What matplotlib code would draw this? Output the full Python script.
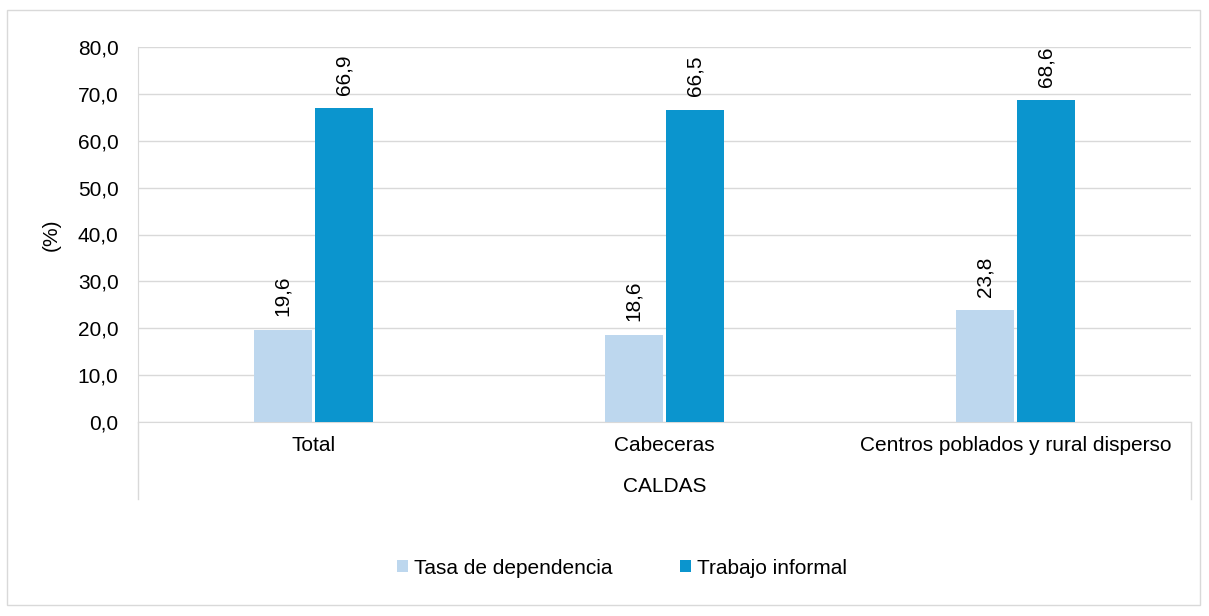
import matplotlib
matplotlib.use("Agg")
import matplotlib.pyplot as plt
from matplotlib.patches import Rectangle
from matplotlib.lines import Line2D
import numpy as np

categories = ["Total", "Cabeceras", "Centros poblados y rural disperso"]
series_names = ["Tasa de dependencia", "Trabajo informal"]
tasa = [19.6, 18.6, 23.8]
informal = [66.9, 66.5, 68.6]
colors = ["#BDD7EE", "#0B95CE"]
group_label = "CALDAS"

plt.rcParams['font.family'] = ['Liberation Sans', 'DejaVu Sans']
FS = 15

W, H = 1209, 616
fig = plt.figure(figsize=(W/100, H/100), dpi=100)
L, R, T, B = 138, 1191, 47, 422
ax = fig.add_axes([L/W, 1-B/H, (R-L)/W, (B-T)/H])

x = np.arange(len(categories))
bw = 0.165
gap = 0.005
b1 = ax.bar(x - bw/2 - gap, tasa, bw, color=colors[0], label=series_names[0], zorder=3)
b2 = ax.bar(x + bw/2 + gap, informal, bw, color=colors[1], label=series_names[1], zorder=3)

for bars, vals in [(b1, tasa), (b2, informal)]:
    for rect, v in zip(bars, vals):
        ax.annotate(f"{v:.1f}".replace(".", ","),
                    (rect.get_x() + rect.get_width()/2, rect.get_height()),
                    xytext=(0, 10), textcoords="offset points",
                    rotation=90, ha="center", va="bottom", fontsize=FS, color="#000000")

ax.set_xlim(-0.5, len(categories) - 0.5)
ax.set_ylim(0, 80)
ax.set_yticks(np.arange(0, 81, 10))
ax.set_yticklabels([f"{v:.1f}".replace(".", ",") for v in np.arange(0, 81, 10)], fontsize=FS)
ax.set_xticks(x)
ax.set_xticklabels(categories, fontsize=FS)
ax.tick_params(axis="y", length=0, pad=14)
ax.tick_params(axis="x", length=0, pad=10)
ax.grid(axis="y", color="#D9D9D9", linewidth=1, zorder=0)
for s in ["top", "right"]:
    ax.spines[s].set_visible(False)
ax.spines["left"].set_color("#D9D9D9")
ax.spines["bottom"].set_color("#D9D9D9")
ax.set_ylabel("(%)", fontsize=FS, labelpad=12)

# group separators and group label
ext = (499 - B) / (B - T) * 80
for xv in [-0.5, len(categories) - 0.5]:
    ax.add_line(Line2D([xv, xv], [0, -ext], color="#D9D9D9", linewidth=1, clip_on=False,
                       transform=ax.transData))
ax.text(0.5, -(487 - B) / (B - T), group_label, transform=ax.transAxes,
        ha="center", va="center", fontsize=FS)

leg = fig.legend(handles=[b1, b2], labels=series_names, loc="center",
                 bbox_to_anchor=(622/W, 1 - 568/H), ncol=2, frameon=False, fontsize=FS,
                 handlelength=0.55, handleheight=0.55, handletextpad=0.3, columnspacing=3.2)

fig.add_artist(Rectangle((7/W, 1 - 605/H), (1200-7)/W, (605-10)/H, transform=fig.transFigure,
                         fill=False, edgecolor="#D9D9D9", linewidth=1))

fig.savefig("out.png", dpi=100)
